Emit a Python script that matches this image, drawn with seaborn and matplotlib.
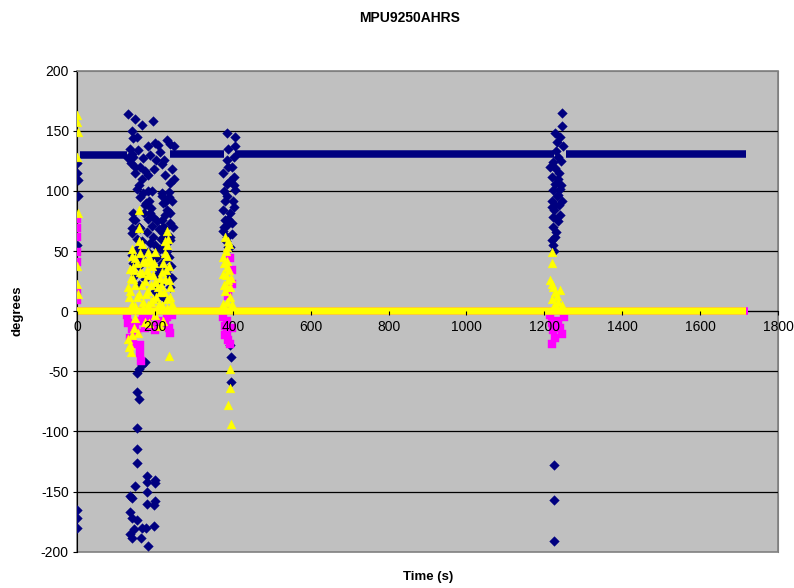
import pandas as pd
import seaborn as sns
import matplotlib.pyplot as plt

# dense "steady" runs of each series (start s, end s, level deg)
navy_runs = [(8, 128, 129.5), (239, 378, 131), (406, 1224, 131), (1255, 1717, 131)]
magenta_runs = [(0, 1722, 0)]
yellow_runs = [(0, 1718, 0)]

# scattered excursion points
navy_t = [1, 1, 2, 3, 1, 1, 1, 1,
          132, 138, 132, 149, 196, 166, 140, 153, 145, 183, 200, 230, 239, 157, 140, 170, 187,
          162, 175, 149, 183, 226, 166, 239, 153, 183, 217, 235, 162, 175, 226, 187, 145, 239,
          183, 226, 149, 192, 162, 226, 179, 140, 196, 230, 153, 166, 200, 222, 183, 140, 200,
          230, 158, 209, 175, 234, 200, 158, 205, 205, 145, 140,
          217, 235, 222, 230, 217, 239, 222, 239, 226, 217, 209, 213, 222, 248,
          135, 145, 150, 160, 170, 178, 185, 190, 195, 205, 210, 215, 220, 225, 232, 236,
          242, 245, 240, 228, 206, 212, 188, 170, 165, 155, 150, 143, 160, 172, 192, 198,
          204, 208, 212, 218, 224, 244, 248, 244, 246, 240,
          175, 166, 158, 153, 153, 158, 153, 153, 153, 181, 200, 179, 149, 200, 179, 136, 140,
          200, 181, 198, 136, 140, 153, 166, 177, 198, 136, 140, 164, 183, 146,
          384, 389, 384, 406, 406, 376, 402, 384, 406, 376, 402, 389, 397, 380, 376, 384, 393,
          389, 393, 396, 396,
          380, 386, 392, 398, 402, 388, 378, 382, 398, 394, 400, 404, 386, 378,
          1245, 1245, 1228, 1240, 1232, 1249, 1236, 1223, 1215, 1228, 1219, 1236, 1228, 1240,
          1223, 1236, 1219, 1245, 1228, 1219, 1240, 1223, 1228, 1219, 1223,
          1230, 1242, 1238, 1232, 1244, 1226, 1234, 1222, 1230, 1226, 1238,
          1225, 1225, 1225]
navy_v = [123, 115, 109, 96, 55, -165, -172, -180,
          127, 123, 164, 160, 158, 155, 150, 145, 144, 137, 140, 142, 139, 134, 131, 127, 130,
          120, 117, 115, 113, 113, 110, 107, 102, 100, 96, 99, 95, 88, 91, 82, 82, 82,
          77, 80, 76, 71, 69, 69, 66, 65, 62, 60, 60, 58, 55, 52, 49, 47, 44,
          44, 38, 35, 27, 30, 17, 22, 12, -9, 77, 69,
          98, 95, 90, 84, 76, 73, 65, 59, 53, 40, 31, 23, 12, 137,
          135, 128, 120, 105, 98, 90, 92, 86, 78, 75, 68, 60, 70, 64, 50, 45,
          38, 28, 20, 34, 45, 52, 57, 50, 44, 52, 30, 40, 70, 82, 100, 118,
          126, 138, 132, 122, 126, 118, 110, 92, 70, 62,
          -42, -45, -48, -51, -67, -73, -97, -115, -126, -137, -140, -142, -145, -143, -150, -154, -155,
          -158, -160, -161, -167, -172, -174, -180, -180, -179, -185, -189, -189, -195, -181,
          148, 120, 106, 145, 137, 115, 112, 126, 101, 84, 87, 77, 73, 76, 67, 62, 53,
          53, -28, -38, -59,
          92, 96, 108, 120, 128, 135, 100, 58, 64, 82, 92, 105, 72, 70,
          165, 154, 148, 145, 141, 137, 128, 124, 120, 119, 112, 110, 106, 102,
          101, 97, 92, 92, 88, 87, 80, 70, 62, 59, 55,
          133, 125, 115, 96, 105, 84, 75, 78, 66, 50, 88,
          -128, -157, -191]

magenta_t = [0, 0, 0, 0, 0, 1, 1,
             132, 140, 136, 145, 149, 158, 162, 162, 164, 183, 190, 200, 209, 226, 235, 239,
             230, 175, 243, 128, 153, 170,
             376, 380, 384, 389, 393, 384, 397, 393, 397, 397, 389, 380,
             1215, 1219, 1223, 1228, 1219, 1236, 1245, 1240, 1250, 1232]
magenta_v = [77, 69, 62, 49, 41, 16, 9,
             -10, -15, -22, -27, -12, -8, -28, -35, -41, -5, -12, -16, -8, -10, -14, -18,
             -5, -14, -3, -3, -18, -6,
             -5, -12, -18, -24, -27, -8, -14, 44, 34, 23, 13, -20,
             -3, -10, -16, -22, -27, -8, -19, -14, -5, -12]

yellow_t = [1, 1, 2, 1, 2, 1, 1, 2,
            158, 158, 230, 230, 140, 183, 200, 226, 149, 175, 235, 136, 192, 162, 217, 183, 145,
            226, 200, 166, 239, 136, 183, 213, 153, 196, 230, 170, 140, 217, 183, 187, 145,
            130, 134, 138, 142, 146, 150, 154, 158, 162, 166, 170, 174, 178, 180, 186, 190,
            194, 198, 204, 208, 212, 216, 220, 224, 228, 232, 236, 240, 244, 150, 170, 190,
            210, 230, 160, 168, 226, 234,
            132, 136, 140, 235, 149, 175, 200, 134, 138, 146, 156, 186, 214, 222,
            380, 384, 376, 384, 376, 389, 380, 393, 376, 397, 384, 391, 393, 393, 395, 389,
            378, 382, 386, 390, 394, 386, 378, 382, 396, 388,
            1219, 1219, 1219, 1215, 1223, 1228, 1232, 1219, 1236, 1245, 1240, 1228, 1223]
yellow_v = [163, 157, 149, 128, 82, 38, 23, 14,
            84, 69, 67, 55, 52, 49, 49, 48, 44, 41, 38, 35, 38, 33, 33, 30, 27,
            27, 24, 22, 20, 17, 17, 16, 12, 10, 10, 8, 6, 5, 5, 42, 37,
            20, 12, 28, 46, 34, 22, 40, 14, 48, 32, 42, 25, 14, 34, 45, 22,
            30, 40, 12, 20, 28, 22, 40, 16, 34, 46, 26, 12, 6, 4, 3, 8,
            6, 3, 58, 56, 58, 60,
            -23, -28, -20, -37, -6, -9, -3, -30, -34, -14, -18, -10, -12, -8,
            62, 53, 45, 37, 31, 26, 17, 12, 6, 6, 20, 56, -48, -64, -94, -78,
            40, 30, 42, 34, 20, 8, 22, 50, 28, 58,
            49, 40, 23, 26, 20, 16, 13, 10, 8, 5, 18, 6, 3]

navy = '#000080'
magenta = '#FF00FF'
yellow = '#FFFF00'

plt.rcParams['axes.unicode_minus'] = False

fig = plt.figure(figsize=(7.94, 5.88), dpi=100)
ax = fig.add_axes([77 / 794, 1 - 551.7 / 588, 701 / 794, 481 / 588])
ax.set_facecolor('#C0C0C0')

# steady runs drawn as thick bands, excursions as markers; Excel order navy, magenta, yellow
for runs, col, z in [(navy_runs, navy, 3), (magenta_runs, magenta, 4), (yellow_runs, yellow, 5)]:
    for t0, t1, lvl in runs:
        ax.hlines(lvl, t0, t1, color=col, linewidth=5.4, zorder=z)

sns.scatterplot(x=navy_t, y=navy_v, marker='D', s=24, color=navy, edgecolor=navy,
                linewidth=0.3, ax=ax, zorder=3)
sns.scatterplot(x=magenta_t, y=magenta_v, marker='s', s=26, color=magenta, edgecolor=magenta,
                linewidth=0.3, ax=ax, zorder=4)
sns.scatterplot(x=yellow_t, y=yellow_v, marker='^', s=40, color=yellow, edgecolor=yellow,
                linewidth=0.3, ax=ax, zorder=5)

ax.set_xlim(0, 1800)
ax.set_ylim(-200, 200)
ax.set_xticks(range(0, 1801, 200))
ax.set_yticks(range(-200, 201, 50))
ax.set_xlabel('')
ax.set_ylabel('')

ax.yaxis.grid(True, color='black', linewidth=0.9)
ax.xaxis.grid(False)
glines = ax.yaxis.get_gridlines()
glines[0].set_visible(False)
glines[-1].set_visible(False)

ax.spines['bottom'].set_position(('data', 0))
ax.spines['bottom'].set_color('black')
ax.spines['left'].set_color('black')
for side in ['top', 'right']:
    ax.spines[side].set_color('#808080')
ax.patch.set_edgecolor('#808080')
ax.patch.set_linewidth(1.2)

ax.tick_params(axis='both', direction='out', length=3, width=0.8, color='black',
               labelsize=10, labelcolor='black', pad=3)
ax.xaxis.set_zorder(6)
for lab in ax.get_xticklabels() + ax.get_yticklabels():
    lab.set_family('Liberation Sans')

fig.text(410 / 794, 1 - 18 / 588, 'MPU9250AHRS', ha='center', va='center',
         fontsize=10, fontweight='bold', family='Liberation Sans')
fig.text(428 / 794, 1 - 577 / 588, 'Time (s)', ha='center', va='center',
         fontsize=9.5, fontweight='bold', family='Liberation Sans')
fig.text(18 / 794, 1 - 311 / 588, 'degrees', ha='center', va='center', rotation=90,
         fontsize=9.5, fontweight='bold', family='Liberation Sans')

plt.savefig('out.png', dpi=100)
